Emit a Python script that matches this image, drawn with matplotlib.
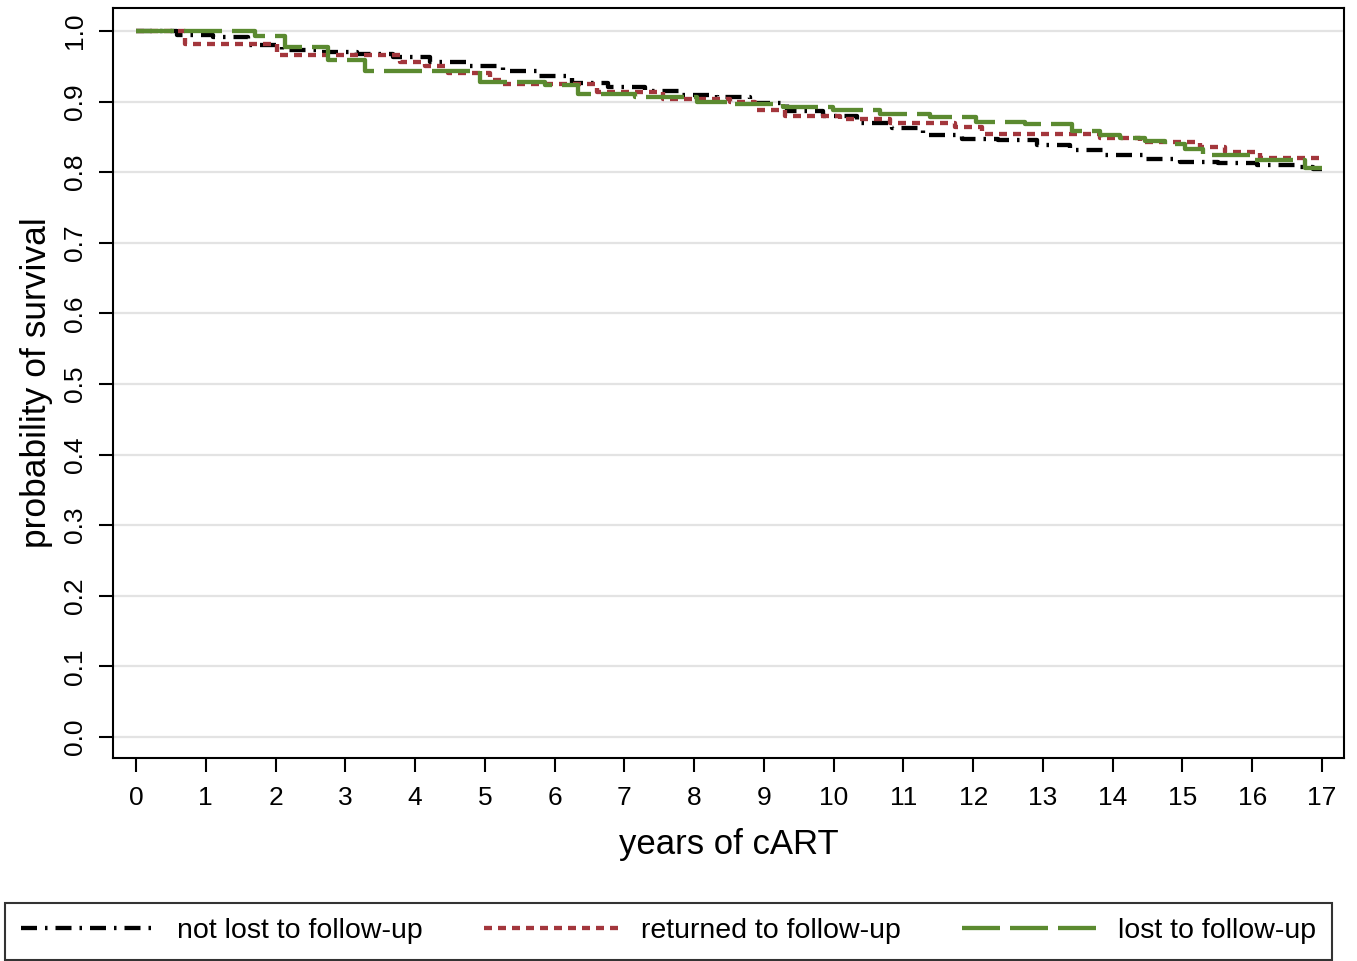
import matplotlib
matplotlib.use("Agg")
import matplotlib.pyplot as plt

plt.rcParams['font.family'] = ['Liberation Sans', 'DejaVu Sans']
plt.rcParams['lines.scale_dashes'] = False

# ---- data (step times in years, survival after the step) ----
not_lost_t = [0, 0.59, 1.10, 1.60, 2.09, 2.60, 3.17, 3.68, 4.21, 4.74, 5.26, 5.75,
              6.25, 6.77, 7.30, 7.83, 8.33, 8.80, 9.33, 9.85, 10.34, 10.84, 11.28,
              11.84, 12.36, 12.92, 13.39, 13.89, 14.43, 14.97, 15.51, 16.07, 16.61,
              16.87, 17.0]
not_lost_s = [1.0, 0.994, 0.991, 0.980, 0.973, 0.970, 0.967, 0.963, 0.956, 0.950, 0.944,
              0.936, 0.926, 0.921, 0.915, 0.910, 0.907, 0.898, 0.887, 0.880, 0.870,
              0.862, 0.853, 0.847, 0.845, 0.839, 0.831, 0.824, 0.819, 0.815, 0.813,
              0.810, 0.807, 0.805, 0.805]

returned_t = [0, 0.70, 2.02, 3.78, 4.14, 4.47, 5.07, 5.25, 6.61, 7.55, 8.52, 8.87,
              9.30, 10.09, 10.81, 11.74, 12.13, 13.82, 14.39, 15.25, 15.61, 16.11, 17.0]
returned_s = [1.0, 0.982, 0.966, 0.956, 0.950, 0.940, 0.931, 0.925, 0.914, 0.904,
              0.900, 0.888, 0.880, 0.875, 0.870, 0.864, 0.854, 0.848, 0.843, 0.836,
              0.828, 0.820, 0.820]

lost_t = [0, 1.71, 2.14, 2.75, 3.28, 4.93, 5.86, 6.34, 7.15, 8.04, 8.59, 9.27, 9.99,
          10.67, 11.38, 12.04, 12.74, 13.42, 13.82, 14.11, 14.46, 14.75, 15.04, 15.30,
          16.04, 16.76, 17.0]
lost_s = [1.0, 0.993, 0.977, 0.959, 0.943, 0.928, 0.924, 0.911, 0.906, 0.900, 0.896,
          0.892, 0.888, 0.882, 0.878, 0.871, 0.868, 0.858, 0.853, 0.848, 0.844, 0.840,
          0.833, 0.824, 0.817, 0.806, 0.806]

labels = ['not lost to follow-up', 'returned to follow-up', 'lost to follow-up']
x_ticks = list(range(0, 18))
y_ticks = [i / 10 for i in range(0, 11)]
y_ticklabels = [f"{v:.1f}" for v in y_ticks]

# ---- styles ----
c_black = '#000000'
c_red = '#A3363C'
c_green = '#5B8A30'
lw = 3.1
px = 0.72
dash_black = (0, (16 * px, 8 * px, 2.5 * px, 8 * px))
dash_red = (0, (8 * px, 6 * px))
dash_green = (0, (38 * px, 10 * px))

fig = plt.figure(figsize=(13.57, 9.61), dpi=100)
ax = fig.add_axes([113 / 1357, 1 - 758 / 961, (1344 - 113) / 1357, (758 - 8) / 961])

for v in y_ticks:
    ax.axhline(v, color='#e3e3e3', lw=1.6, zorder=0)

l1, = ax.plot(not_lost_t, not_lost_s, drawstyle='steps-post', color=c_black, lw=lw,
              linestyle=dash_black, dash_capstyle='butt', zorder=3)
l2, = ax.plot(returned_t, returned_s, drawstyle='steps-post', color=c_red, lw=lw,
              linestyle=dash_red, dash_capstyle='butt', zorder=3)
l3, = ax.plot(lost_t, lost_s, drawstyle='steps-post', color=c_green, lw=lw,
              linestyle=dash_green, dash_capstyle='butt', zorder=3)

ax.set_xlim(-0.33, 17.315)
ax.set_ylim(-0.0297, 1.0326)
ax.set_xticks(x_ticks)
ax.set_xticklabels([str(t) for t in x_ticks])
ax.set_yticks(y_ticks)
ax.set_yticklabels(y_ticklabels, rotation=90, va='center')
ax.tick_params(axis='both', direction='out', length=10, width=1.5, labelsize=19,
               color='black')
ax.tick_params(axis='x', pad=10)
ax.tick_params(axis='y', pad=9)
for sp in ax.spines.values():
    sp.set_linewidth(1.5)
    sp.set_color('black')

ax.set_xlabel('years of cART', fontsize=25, labelpad=13)
ax.set_ylabel('probability of survival', fontsize=25.5, labelpad=7)

leg = fig.legend([l1, l2, l3], labels, loc='lower left', ncol=3, mode='expand',
                 bbox_to_anchor=(5 / 1357, 1 / 961, 1327 / 1357, 67 / 961),
                 fontsize=20.5, handlelength=4.8, handletextpad=0.7,
                 borderpad=0.55, fancybox=False, frameon=True, borderaxespad=0)
leg.get_frame().set_edgecolor('black')
leg.get_frame().set_linewidth(1.5)

fig.savefig('out.png', dpi=100)
